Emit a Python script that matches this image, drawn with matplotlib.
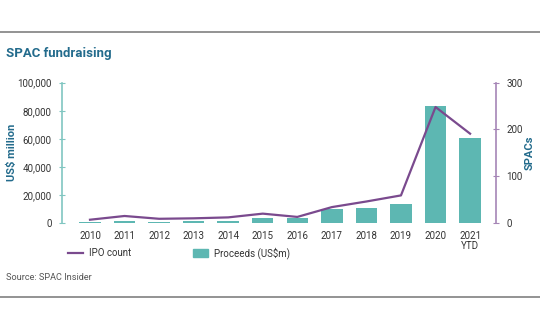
import matplotlib
matplotlib.use("Agg")
import matplotlib.pyplot as plt
from matplotlib.lines import Line2D
from matplotlib.patches import Patch

plt.rcParams["font.family"] = ["Roboto", "DejaVu Sans"]

years = ["2010", "2011", "2012", "2013", "2014", "2015", "2016",
         "2017", "2018", "2019", "2020", "2021\nYTD"]
proceeds = [500, 1100, 500, 1400, 1750, 3900, 3500,
            10000, 10800, 13600, 83400, 60300]
ipo_count = [7, 15, 9, 10, 12, 20, 13, 34, 46, 59, 248, 191]

TEAL = "#5db7b2"
TEAL_AX = "#80c6c1"
PURPLE = "#7a4a8e"
PURPLE_AX = "#a585b6"
TITLE = "#236b8c"
TXT = "#333333"
FS = 7.0

fig = plt.figure(figsize=(5.4, 3.34), dpi=100)
ax = fig.add_axes([62 / 540, 1 - 223 / 334, (496 - 62) / 540, (223 - 82.7) / 334])
x = list(range(len(years)))
ax.bar(x, proceeds, width=0.62, color=TEAL, zorder=2)
ax.set_xlim(-0.81, 11.75)
ax.set_ylim(0, 100000)
ax.set_yticks(range(0, 100001, 20000))
ax.set_yticklabels([f"{v:,}" for v in range(0, 100001, 20000)])
ax.set_xticks(x)
ax.set_xticklabels(years, fontsize=FS, color=TXT, linespacing=0.95)
ax.tick_params(axis="x", length=0, pad=6)
ax.tick_params(axis="y", direction="inout", length=5, color=TEAL_AX,
               labelsize=FS, labelcolor=TXT, pad=5)
for s in ["top", "right", "bottom"]:
    ax.spines[s].set_visible(False)
ax.spines["left"].set_color(TEAL_AX)
ax.spines["left"].set_linewidth(1.2)
ax.set_ylabel("US$ million", color=TITLE, fontsize=8, fontweight="bold", va="center")
ax.yaxis.set_label_coords((12 - 62) / 434, 0.5)

ax2 = ax.twinx()
ax2.plot(x, ipo_count, color=PURPLE, lw=1.6, zorder=3)
ax2.set_ylim(0, 300)
ax2.set_yticks([0, 100, 200, 300])
ax2.tick_params(axis="y", direction="inout", length=5, color=PURPLE_AX,
                labelsize=FS, labelcolor=TXT, pad=5)
for s in ["top", "left", "bottom"]:
    ax2.spines[s].set_visible(False)
ax2.spines["right"].set_color(PURPLE_AX)
ax2.spines["right"].set_linewidth(1.2)
ax2.set_ylabel("SPACs", color=TITLE, fontsize=8, fontweight="bold", va="center")
ax2.yaxis.set_label_coords((530 - 62) / 434, 0.5)

handles = [Line2D([0], [0], color=PURPLE, lw=1.6),
           Patch(color=TEAL)]
fig.legend(handles, ["IPO count", "Proceeds (US$m)"], ncol=2, frameon=False,
           loc="center left", bbox_to_anchor=(64 / 540, 1 - 253 / 334),
           borderaxespad=0, fontsize=FS, handlelength=1.6, handleheight=0.8,
           handletextpad=0.6, columnspacing=6.3, labelcolor=TXT)

fig.text(6 / 540, 1 - 53 / 334, "SPAC fundraising", color=TITLE, fontsize=9.5,
         fontweight="bold", va="center")
fig.text(6 / 540, 1 - 277 / 334, "Source: SPAC Insider", color="#555555",
         fontsize=6.6, va="center")
fig.add_artist(Line2D([0, 1], [1 - 32 / 334] * 2, color="#8a8a8a", lw=1.3))
fig.add_artist(Line2D([0, 1], [1 - 297 / 334] * 2, color="#8a8a8a", lw=1.3))

fig.savefig("out.png", dpi=100)
